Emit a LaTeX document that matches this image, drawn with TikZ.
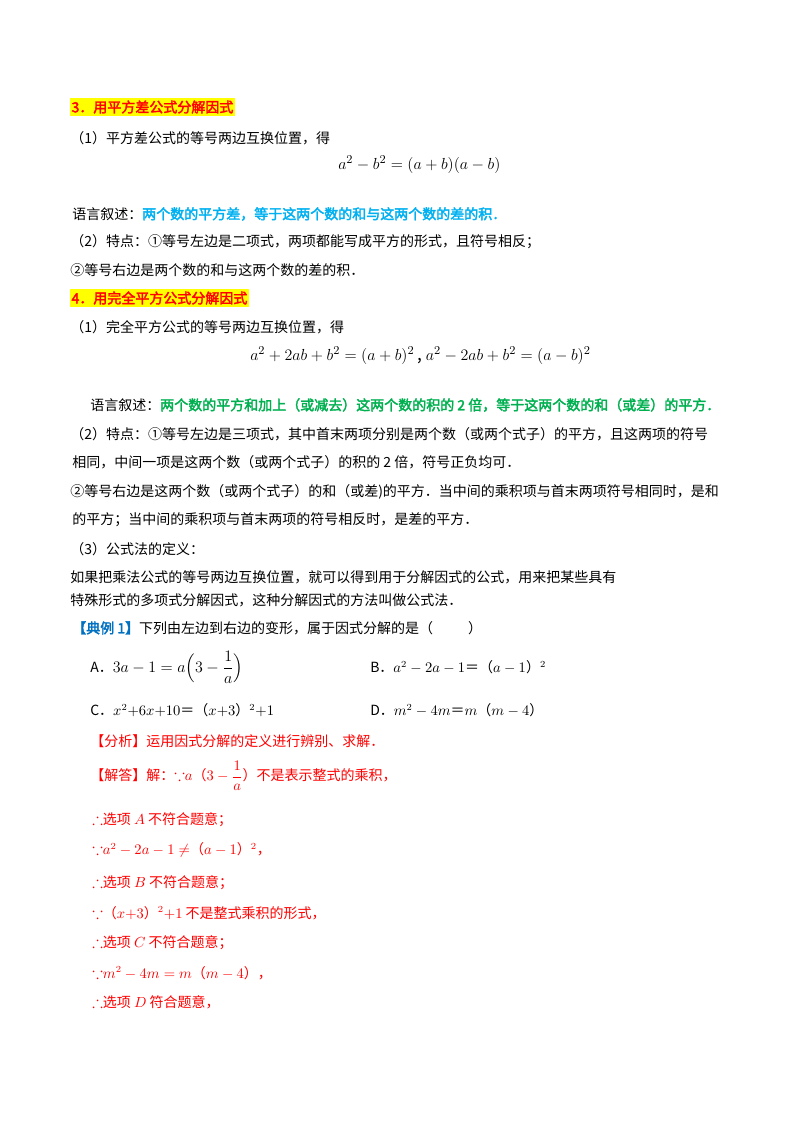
\documentclass[tikz,border=0pt]{standalone}
\usepackage{amsmath,amssymb}
\usepackage{fontspec}
\setmainfont{Noto Sans CJK SC}[AutoFakeBold=2.5]
\definecolor{hred}{RGB}{255,0,0}
\definecolor{hblue}{RGB}{0,176,240}
\definecolor{hgreen}{RGB}{0,176,80}
\definecolor{hdblue}{RGB}{0,112,192}
\definecolor{hyel}{RGB}{255,255,0}
\newcommand\bec{\mbox{\large$\because$}}
\newcommand\thr{\mbox{\large$\therefore$}}
\begin{document}
\begin{tikzpicture}[x=0.75pt,y=-0.75pt,
  txt/.style={anchor=west,inner sep=0pt,font=\fontsize{10.5}{12}\selectfont},
  big/.style={anchor=west,inner sep=0pt,font=\fontsize{13}{15}\selectfont},
  hl/.style={txt,fill=hyel,inner ysep=2pt,inner xsep=1pt,text=hred,font=\fontsize{10.5}{12}\selectfont\bfseries}]
\useasboundingbox (0,0) rectangle (800,1132);
\node[hl] (h3) at (70,107) {3．用平方差公式分解因式};
\node[txt] (l1) at (70,138) {（1）平方差公式的等号两边互换位置，得};
\node[big] (f1) at (338,165) {$a^2-b^2=(a+b)(a-b)$};
\node[txt] (l2) at (72,214) {语言叙述：\textcolor{hblue}{\bfseries 两个数的平方差，等于这两个数的和与这两个数的差的积．}};
\node[txt] (l3) at (70,242) {（2）特点：①等号左边是二项式，两项都能写成平方的形式，且符号相反；};
\node[txt] (l4) at (70,270) {②等号右边是两个数的和与这两个数的差的积．};
\node[hl] (h4) at (70,298) {4．用完全平方公式分解因式};
\node[txt] (l5) at (70,327) {（1）完全平方公式的等号两边互换位置，得};
\node[big] (f2) at (250,356) {$a^2+2ab+b^2=(a+b)^2$\,,\ $a^2-2ab+b^2=(a-b)^2$};
\node[txt] (l6) at (90,405) {语言叙述：\textcolor{hgreen}{\bfseries 两个数的平方和加上（或减去）这两个数的积的 2 倍，等于这两个数的和（或差）的平方．}};
\node[txt] (l7) at (70,434) {（2）特点：①等号左边是三项式，其中首末两项分别是两个数（或两个式子）的平方，且这两项的符号};
\node[txt] (l8) at (72,462) {相同，中间一项是这两个数（或两个式子）的积的 2 倍，符号正负均可．};
\node[txt] (l9) at (70,492) {②等号右边是这两个数（或两个式子）的和（或差)的平方．当中间的乘积项与首末两项符号相同时，是和};
\node[txt] (l10) at (72,520) {的平方；当中间的乘积项与首末两项的符号相反时，是差的平方．};
\node[txt] (l11) at (70,549) {（3）公式法的定义：};
\node[txt] (l12) at (70,577) {如果把乘法公式的等号两边互换位置，就可以得到用于分解因式的公式，用来把某些具有};
\node[txt] (l13) at (70,600) {特殊形式的多项式分解因式，这种分解因式的方法叫做公式法．};
\node[txt] (ex) at (72,628) {\textcolor{hdblue}{\bfseries【典例 1】}下列由左边到右边的变形，属于因式分解的是（\hspace{2.5em}）};
\node[txt] (oA) at (90,667) {A．\large$3a-1=a\Bigl(3-\dfrac{1}{a}\Bigr)$};
\node[txt] (oB) at (370,667) {B．$a^2-2a-1$＝（$a-1$）$^2$};
\node[txt] (oC) at (90,710) {C．$x^2{+}6x{+}10$＝（$x{+}3$）$^2{+}1$};
\node[txt] (oD) at (370,710) {D．$m^2-4m$＝$m$（$m-4$）};
\begin{scope}[every node/.append style={text=hred}]
\node[txt] (s1) at (90,741) {【分析】运用因式分解的定义进行辨别、求解．};
\node[txt] (s2) at (90,776) {【解答】解：\bec$a$（$3-\dfrac{1}{a}$）不是表示整式的乘积，};
\node[txt] (s3) at (92,820) {\thr 选项 $A$ 不符合题意；};
\node[txt] (s4) at (92,850) {\bec$a^2-2a-1\neq$（$a-1$）$^2$，};
\node[txt] (s5) at (92,883) {\thr 选项 $B$ 不符合题意；};
\node[txt] (s6) at (92,913) {\bec（$x{+}3$）$^2{+}1$ 不是整式乘积的形式，};
\node[txt] (s7) at (92,943) {\thr 选项 $C$ 不符合题意；};
\node[txt] (s8) at (92,973) {\bec$m^2-4m=m$（$m-4$），};
\node[txt] (s9) at (92,1002) {\thr 选项 $D$ 符合题意，};
\end{scope}
\end{tikzpicture}
\end{document}
